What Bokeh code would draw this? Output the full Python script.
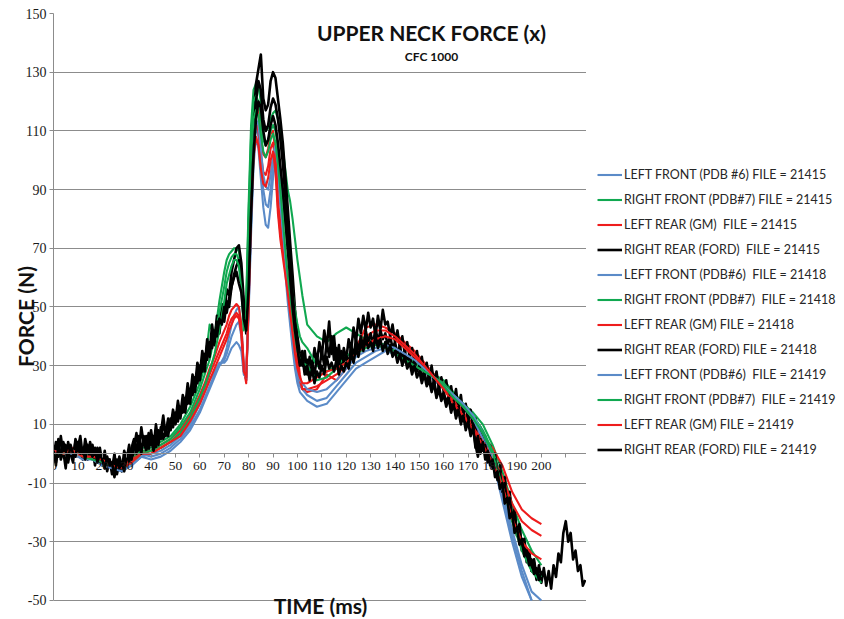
from bokeh.plotting import figure
from bokeh.layouts import row
from bokeh.models import (Range1d, LinearAxis, FixedTicker, Grid, Legend, LegendItem, Label)
from bokeh.embed import file_html
from bokeh.resources import INLINE

NAN = float("nan")

TITLE = "UPPER NECK FORCE (x)"
SUBTITLE = "CFC 1000"
X_LABEL = "TIME (ms)"
Y_LABEL = "FORCE (N)"

X_TICKS = [0, 10, 20, 30, 40, 50, 60, 70, 80, 90, 100, 110, 120, 130, 140, 150,
           160, 170, 180, 190, 200, 210]
Y_TICKS = [-50, -30, -10, 10, 30, 50, 70, 90, 110, 130, 150]
Y_TICK_TEXT = {-50: "-50", -30: "-30", -10: "-10"}

# time grid of the coloured (smoother) traces, ms
T_COLOR = [0, 4, 8, 12, 16, 20, 24, 28, 32, 36, 40, 44, 48, 52, 56, 60,
           62, 64, 66, 68, 70,
           71, 72, 73, 74, 75, 76, 77, 78, 79, 80, 81, 82, 83, 84, 85, 86,
           87, 88, 89, 90, 91, 92, 93, 94, 95, 96, 97, 98, 99, 100, 101, 102,
           104, 108, 112, 116, 120, 124, 128, 132, 136, 140, 144, 148, 152,
           156, 160, 164, 168, 172, 176, 180, 184, 188, 192, 196, 200]

LF_21415 = [1, 0, -1, -1, -2, -3, -5, -6, -4, -1, -2, -1, 1, 4, 8, 14,
            18, 22, 26, 30, 33,
            36, 40, 44, 47, 49, 50, 44, 30, 25, 48, 75, 98, 108, 104, 94, 84,
            78, 77, 84, 94, 100, 94, 84, 72, 62, 52, 44, 36, 29, 24, 21, 20,
            18, 16, 17, 21, 25, 29, 31, 33, 35, 34, 33, 31, 28, 25, 22, 19, 16,
            12, 6, -2, -16, -30, -42, -50, NAN]
LF_21418 = [0, 1, 0, -1, -1, -3, -4, -5, -3, 0, -1, 0, 2, 5, 9, 15,
            19, 23, 27, 30, 32,
            34, 37, 40, 42, 44, 45, 40, 28, 25, 50, 78, 102, 112, 108, 98, 90,
            85, 84, 90, 98, 103, 98, 88, 76, 65, 55, 46, 38, 31, 26, 23, 22,
            20, 18, 19, 23, 27, 31, 33, 35, 36, 35, 33, 31, 28, 26, 23, 20, 16,
            12, 5, -3, -14, -28, -40, -50, NAN]
LF_21419 = [1, 0, 0, -2, -2, -4, -5, -6, -4, -1, 0, 1, 3, 6, 10, 17,
            21, 25, 28, 31, 31,
            32, 34, 36, 37, 38, 37, 35, 27, 26, 52, 80, 104, 114, 112, 104, 95,
            91, 90, 95, 102, 105, 101, 90, 78, 67, 57, 48, 40, 33, 28, 25, 24,
            22, 21, 22, 25, 29, 33, 35, 36, 37, 36, 34, 32, 29, 26, 23, 20, 17,
            13, 7, -1, -12, -26, -38, -47, -50]

LR_21415 = [1, 0, 2, 0, -1, -2, -3, -4, -2, 1, 1, 3, 5, 8, 13, 20,
            24, 29, 33, 38, 42,
            44, 47, 49, 50, 51, 50, 44, 30, 25, 56, 90, 112, 120, 117, 108, 102,
            101, 104, 109, 110, 102, 86, 78, 72, 66, 61, 55, 48, 41, 34, 27, 22,
            21, 22, 27, 25, 29, 36, 43, 44, 43, 41, 38, 35, 31, 27, 23, 19, 14,
            10, 6, 2, -4, -13, -19, -22, -24]
LR_21418 = [0, 1, 1, 0, -2, -3, -4, -4, -2, 0, 1, 2, 4, 7, 12, 18,
            22, 27, 31, 35, 39,
            41, 44, 46, 47, 48, 47, 42, 29, 24, 52, 85, 106, 113, 110, 102, 96,
            95, 98, 104, 106, 99, 84, 75, 69, 63, 57, 50, 43, 36, 30, 25, 22,
            22, 23, 25, 27, 30, 35, 40, 42, 42, 40, 37, 34, 30, 26, 22, 18, 13,
            9, 4, -1, -8, -17, -23, -26, -28]
LR_21419 = [1, 0, 1, -1, -1, -2, -4, -5, -3, 0, 0, 2, 4, 6, 11, 17,
            21, 25, 29, 33, 37,
            39, 42, 44, 46, 47, 46, 41, 28, 26, 50, 82, 101, 108, 105, 97, 92,
            91, 94, 100, 103, 96, 82, 73, 67, 61, 55, 48, 41, 34, 29, 26, 24,
            24, 26, 28, 29, 31, 34, 37, 39, 40, 39, 36, 33, 30, 26, 22, 17, 13,
            8, 3, -3, -11, -22, -30, -34, -36]

RF_21415 = [0, 1, 0, -1, -1, -2, -3, -3, -1, 2, 2, 4, 6, 10, 16, 24,
            30, 44, 40, 52, 62,
            66, 68, 69, 70, 70, 69, 62, 48, 52, 85, 112, 124, 126, 125, 120, 112,
            110, 111, 114, 116, 117, 114, 110, 104, 97, 90, 86, 80, 73, 66, 60, 54,
            44, 40, 38, 41, 43, 41, 39, 38, 37, 35, 33, 31, 29, 27, 25, 21, 17,
            14, 10, 3, -6, -17, -26, -33, -38]
RF_21418 = [1, 0, 1, 0, -1, -3, -4, -4, -2, 1, 1, 3, 5, 9, 14, 22,
            27, 32, 40, 48, 57,
            62, 65, 67, 68, 68, 66, 58, 44, 50, 82, 108, 120, 122, 120, 114, 107,
            105, 107, 110, 112, 110, 104, 96, 88, 79, 70, 62, 55, 49, 44, 40, 38,
            36, 30, 28, 30, 33, 36, 38, 38, 37, 35, 33, 31, 29, 26, 24, 20, 17,
            13, 8, 1, -9, -20, -30, -38, -42]
RF_21419 = [0, 0, 1, -1, -2, -3, -4, -5, -3, 0, 1, 2, 4, 7, 12, 19,
            23, 28, 34, 42, 52,
            58, 61, 64, 66, 66, 64, 56, 42, 48, 78, 102, 114, 117, 115, 109, 103,
            101, 103, 107, 109, 106, 99, 90, 80, 70, 61, 53, 46, 40, 35, 32, 31,
            30, 25, 26, 29, 31, 34, 36, 37, 36, 34, 32, 30, 28, 26, 23, 19, 16,
            12, 7, 0, -11, -23, -33, -40, -44]

# right rear (FORD) traces: noisy, sampled every 1 ms
T_RR_LONG = list(range(0, 219))
T_RR = list(range(0, 201))
RR_21415 = [3, -4, 5, -2, 1, -5, 4, 0, -3, 5,
            2, 6, -1, 3, -2, 4, 0, -3, 2, -1,
            -4, 1, -6, -2, -5, 0, -7, -3, -6, 1,
            -2, 3, -4, 2, 7, 1, 9, 3, 6, 1,
            8, 2, 10, 4, 7, 13, 6, 12, 9, 15,
            11, 18, 13, 20, 16, 24, 19, 27, 23, 31,
            27, 35, 30, 39, 34, 44, 38, 47, 43, 51,
            47, 56, 54, 62, 66, 70, 71, 65, 52, 41,
            66, 93, 113, 126, 131, 136, 121, 117, 119, 127,
            130, 128, 121, 114, 106, 95, 84, 72, 61, 49,
            40, 34, 30, 35, 27, 33, 29, 36, 31, 38,
            33, 42, 36, 45, 34, 40, 31, 37, 29, 36,
            32, 39, 35, 43, 38, 46, 41, 47, 42, 48,
            43, 46, 40, 47, 42, 49, 44, 45, 40, 44,
            38, 42, 36, 40, 34, 38, 33, 36, 31, 35,
            29, 33, 27, 31, 25, 30, 24, 28, 22, 26,
            21, 25, 19, 23, 17, 22, 15, 20, 13, 17,
            11, 15, 8, 12, 0, 9, 4, 6, 0, 3,
            -3, 0, -7, -4, -11, -8, -16, -13, -21, -19,
            -27, -24, -32, -29, -36, -33, -40, -37, -43, -38,
            -44, -39, -45, -40, -46, -38, -42, -34, -37, -27,
            -23, -30, -27, -36, -33, -40, -38, -45, -43]
RR_21418 = [-2, 4, -1, 6, 0, 3, -3, 2, -1, 4,
            0, 3, -2, 5, 1, -1, 3, -4, 0, 2,
            -3, -1, -5, -2, -7, -3, -5, -1, -4, -2,
            0, -3, 2, 5, 0, 6, 2, 4, 1, 7,
            3, 6, 2, 8, 5, 10, 7, 11, 8, 13,
            10, 15, 12, 18, 14, 21, 17, 25, 21, 28,
            25, 32, 28, 37, 33, 41, 37, 45, 41, 48,
            45, 52, 50, 57, 61, 64, 66, 60, 50, 43,
            60, 88, 108, 120, 127, 124, 114, 110, 112, 118,
            121, 119, 114, 107, 99, 88, 77, 66, 55, 45,
            38, 31, 35, 28, 32, 26, 31, 27, 33, 29,
            35, 30, 38, 33, 40, 32, 36, 30, 35, 31,
            34, 30, 37, 33, 39, 35, 40, 36, 42, 38,
            41, 37, 43, 38, 42, 39, 41, 37, 40, 36,
            38, 34, 37, 32, 35, 31, 34, 29, 32, 28,
            30, 26, 28, 24, 27, 22, 25, 20, 23, 19,
            21, 17, 20, 15, 18, 13, 16, 11, 14, 9,
            12, 7, 10, 3, -1, 5, 1, 3, -3, 0,
            -5, -2, -9, -6, -13, -10, -18, -15, -23, -20,
            -28, -25, -33, -30, -37, -34, -40, -36, -42, -39,
            -41]
RR_21419 = [1, -3, 2, -1, 4, 1, -2, 3, 0, -1,
            4, 0, 2, -2, 3, 1, -1, 2, -3, 0,
            -2, -5, -1, -4, -3, -8, -2, -5, -3, -6,
            -1, 1, -2, 4, 2, 5, 0, 6, 3, 2,
            5, 1, 6, 3, 9, 5, 8, 6, 12, 9,
            14, 11, 16, 14, 19, 17, 22, 20, 26, 24,
            30, 28, 34, 32, 38, 36, 42, 40, 46, 44,
            50, 48, 53, 57, 60, 62, 58, 55, 46, 42,
            56, 82, 102, 114, 120, 118, 110, 105, 107, 112,
            115, 112, 106, 98, 90, 80, 70, 60, 50, 42,
            36, 30, 33, 27, 30, 25, 29, 24, 28, 26,
            30, 27, 33, 29, 31, 28, 32, 27, 30, 28,
            31, 29, 34, 31, 36, 33, 38, 35, 39, 36,
            38, 35, 40, 36, 39, 35, 38, 34, 37, 33,
            35, 31, 34, 30, 33, 29, 31, 27, 30, 26,
            28, 24, 27, 23, 25, 21, 24, 19, 22, 18,
            20, 16, 19, 14, 17, 12, 15, 10, 13, 8,
            11, 6, 9, 2, 6, 0, 4, -2, 1, -4,
            -2, -8, -6, -12, -10, -17, -15, -22, -20, -27,
            -25, -31, -29, -35, -33, -38, -36, -41, -39, -43,
            -40]

LABELS = ["LEFT FRONT (PDB #6) FILE = 21415",
          "RIGHT FRONT (PDB#7) FILE = 21415",
          "LEFT REAR (GM)  FILE = 21415",
          "RIGHT REAR (FORD)  FILE = 21415",
          "LEFT FRONT (PDB#6)  FILE = 21418",
          "RIGHT FRONT (PDB#7)  FILE = 21418",
          "LEFT REAR (GM) FILE = 21418",
          "RIGHT REAR (FORD) FILE = 21418",
          "LEFT FRONT (PDB#6)  FILE = 21419",
          "RIGHT FRONT (PDB#7)  FILE = 21419",
          "LEFT REAR (GM) FILE = 21419",
          "RIGHT REAR (FORD) FILE = 21419"]

BLUE, GREEN, RED, BLACK = "#5B8BC8", "#10A850", "#EE1C1C", "#000000"

SERIES = [
    (T_COLOR, LF_21415, BLUE), (T_COLOR, RF_21415, GREEN), (T_COLOR, LR_21415, RED), (T_RR_LONG, RR_21415, BLACK),
    (T_COLOR, LF_21418, BLUE), (T_COLOR, RF_21418, GREEN), (T_COLOR, LR_21418, RED), (T_RR, RR_21418, BLACK),
    (T_COLOR, LF_21419, BLUE), (T_COLOR, RF_21419, GREEN), (T_COLOR, LR_21419, RED), (T_RR, RR_21419, BLACK),
]

GRID_COLOR = "#8C8C8C"
TICK_FONT = "Liberation Serif"
FONT = "Lato"

# ---- main chart -------------------------------------------------------------
p = figure(width=586, height=619, output_backend="svg", toolbar_location=None,
           x_range=Range1d(0, 218.5), y_range=Range1d(-56.5, 150),
           x_axis_type=None, y_axis_type=None,
           min_border_left=53, min_border_top=13, min_border_bottom=0, min_border_right=0)
p.outline_line_color = None
p.background_fill_color = "white"
p.border_fill_color = "white"

ygrid = Grid(dimension=1, ticker=FixedTicker(ticks=Y_TICKS), grid_line_color=GRID_COLOR,
             grid_line_width=1)
p.add_layout(ygrid)

yaxis = LinearAxis(ticker=FixedTicker(ticks=Y_TICKS), bounds=(-50, 150),
                   major_label_overrides=Y_TICK_TEXT,
                   axis_line_color=GRID_COLOR,
                   major_tick_line_color=GRID_COLOR, major_tick_out=4, major_tick_in=0,
                   minor_tick_line_color=None, major_label_standoff=3,
                   major_label_text_font=TICK_FONT, major_label_text_font_size="14px",
                   major_label_text_color="#1a1a1a",
                   axis_label=Y_LABEL, axis_label_standoff=-15,
                   axis_label_text_font=FONT, axis_label_text_font_style="bold",
                   axis_label_text_font_size="21px", axis_label_text_color="#111111")
p.add_layout(yaxis, "left")

xaxis = LinearAxis(fixed_location=0, ticker=FixedTicker(ticks=X_TICKS),
                   major_label_overrides={210: ""},
                   axis_line_color=GRID_COLOR, major_tick_line_color=GRID_COLOR,
                   major_tick_out=4, major_tick_in=0, minor_tick_line_color=None,
                   major_label_standoff=4, major_label_text_font=TICK_FONT,
                   major_label_text_font_size="13.5px", major_label_text_color="#1a1a1a")
p.add_layout(xaxis, "below")

for xs, ys, col in SERIES:
    lw = 2.6 if col == BLACK else 2.1
    p.line(xs, ys, line_color=col, line_width=lw, line_join="round")

p.add_layout(Label(x=378, y=587, x_units="screen", y_units="screen", text=TITLE,
                   text_align="center", text_baseline="middle", text_font=FONT,
                   text_font_style="bold", text_font_size="21px", text_color="#111111"))
p.add_layout(Label(x=378, y=563, x_units="screen", y_units="screen", text=SUBTITLE,
                   text_align="center", text_baseline="middle", text_font=FONT,
                   text_font_style="bold", text_font_size="12px", text_color="#111111"))
p.add_layout(Label(x=267, y=14, x_units="screen", y_units="screen", text=X_LABEL,
                   text_align="center", text_baseline="middle", text_font=FONT,
                   text_font_style="bold", text_font_size="21px", text_color="#111111"))

# ---- legend panel: same series, kept outside its (empty) view ---------------
q = figure(width=258, height=619, output_backend="svg", toolbar_location=None,
           x_range=Range1d(0, 1), y_range=Range1d(1000, 1001),
           x_axis_type=None, y_axis_type=None,
           min_border_left=0, min_border_top=0, min_border_bottom=0, min_border_right=0)
q.outline_line_color = None
q.background_fill_color = "white"
q.border_fill_color = "white"

items = []
for lab, (xs, ys, col) in zip(LABELS, SERIES):
    lw = 2.6 if col == BLACK else 2.1
    r = q.line(xs, ys, line_color=col, line_width=lw)
    items.append(LegendItem(label=lab, renderers=[r]))

legend = Legend(items=items, location=(11, 159), orientation="vertical",
                padding=0, margin=0, spacing=4, glyph_width=25, glyph_height=21,
                label_height=21, label_standoff=2, border_line_color=None,
                background_fill_alpha=0, label_text_font=FONT,
                label_text_font_size="12.5px", label_text_color="#262626")
q.add_layout(legend)

layout = row(p, q, spacing=0)
open("out.html", "w").write(file_html(layout, INLINE))
